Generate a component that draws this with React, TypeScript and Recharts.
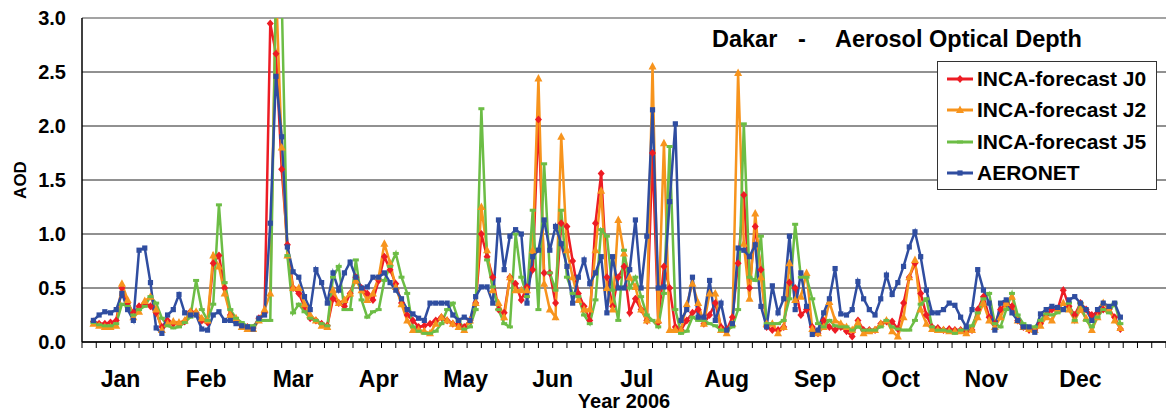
import React from "react";
import { LineChart, Line, XAxis, YAxis, CartesianGrid, ReferenceLine, Legend } from "recharts";

// AOD values every 2nd day of 2006, starting on day 4 (day 0 = Jan 1)
const dayStart = 4;
const dayStep = 2;

const incaJ0 = [
  0.19, 0.17, 0.17, 0.18, 0.2, 0.5, 0.36, 0.27, 0.33, 0.36,
  0.33, 0.27, 0.14, 0.2, 0.17, 0.17, 0.19, 0.28, 0.27, 0.2,
  0.18, 0.73, 0.8, 0.5, 0.25, 0.2, 0.15, 0.14, 0.13, 0.22,
  0.27, 2.95, 2.67, 1.6, 0.9, 0.5, 0.45, 0.33, 0.22, 0.2,
  0.17, 0.15, 0.4, 0.36, 0.33, 0.45, 0.6, 0.5, 0.45, 0.39,
  0.57, 0.79, 0.67, 0.54, 0.36, 0.25, 0.2, 0.14, 0.15, 0.17,
  0.2, 0.23, 0.2, 0.17, 0.16, 0.14, 0.2, 0.36, 1.0, 0.79,
  0.6, 0.3, 0.27, 0.6, 0.54, 0.39, 0.51, 0.67, 2.06, 0.64,
  0.64, 0.36, 1.1, 1.07, 0.75, 0.45, 0.33, 0.2, 1.1, 1.56,
  0.6, 0.33, 0.6, 0.7, 0.27, 0.4, 0.3, 0.2, 1.75, 0.18,
  0.7, 0.5, 0.14, 0.11, 0.2, 0.27, 0.3, 0.17, 0.25, 0.36,
  0.14, 0.11, 0.23, 0.73, 1.36, 0.5, 1.07, 0.67, 0.14, 0.11,
  0.11, 0.14, 0.55, 0.5, 0.25, 0.3, 0.14, 0.08, 0.2, 0.14,
  0.11, 0.14, 0.1, 0.05, 0.2, 0.11, 0.11, 0.11, 0.17, 0.19,
  0.19, 0.12, 0.36, 0.6, 0.73, 0.45, 0.25, 0.14, 0.13, 0.11,
  0.12, 0.11, 0.11, 0.1, 0.11, 0.3, 0.42, 0.23, 0.17, 0.3,
  0.36, 0.33, 0.2, 0.14, 0.11, 0.11, 0.17, 0.25, 0.3, 0.3,
  0.48, 0.33, 0.25, 0.36, 0.3, 0.25, 0.27, 0.3, 0.3, 0.23,
  0.12,
];

const incaJ2 = [
  0.17, 0.15, 0.14, 0.14, 0.15, 0.54, 0.39, 0.23, 0.28, 0.38,
  0.42, 0.3, 0.11, 0.17, 0.19, 0.18, 0.2, 0.28, 0.28, 0.22,
  0.2, 0.8, 0.7, 0.45, 0.25, 0.22, 0.14, 0.12, 0.12, 0.2,
  0.3, 0.45, 3.3, 1.8, 0.8, 0.5, 0.5, 0.35, 0.25, 0.2,
  0.15, 0.14, 0.48, 0.36, 0.39, 0.45, 0.57, 0.48, 0.39, 0.45,
  0.6, 0.91, 0.73, 0.51, 0.35, 0.2, 0.11, 0.11, 0.1, 0.08,
  0.17, 0.23, 0.2, 0.17, 0.14, 0.11, 0.2, 0.36, 1.25, 0.85,
  0.48, 0.36, 0.23, 0.6, 0.48, 0.48, 0.48, 0.85, 2.44, 0.54,
  0.3, 0.23, 1.9, 0.85, 0.6, 0.39, 0.3, 0.3, 0.85, 1.4,
  0.5, 0.3, 1.13, 0.82, 0.6, 0.51, 0.3, 0.2, 2.55, 0.2,
  1.84, 0.11, 0.11, 0.11, 0.35, 0.54, 0.36, 0.17, 0.45, 0.45,
  0.11, 0.08, 0.17, 2.49, 0.91, 0.4, 1.19, 0.6, 0.17, 0.17,
  0.08, 0.14, 0.73, 0.39, 0.42, 0.64, 0.12, 0.08, 0.14, 0.37,
  0.2, 0.17, 0.14, 0.11, 0.18, 0.08, 0.1, 0.11, 0.17, 0.2,
  0.1, 0.05, 0.23, 0.6, 0.76, 0.3, 0.17, 0.12, 0.11, 0.11,
  0.1, 0.1, 0.1, 0.08, 0.11, 0.23, 0.36, 0.2, 0.14, 0.23,
  0.36, 0.42, 0.2, 0.14, 0.12, 0.11, 0.15, 0.23, 0.2, 0.3,
  0.36, 0.3, 0.2, 0.3, 0.22, 0.11, 0.23, 0.36, 0.3, 0.2,
  0.13,
];

const incaJ5 = [
  0.18, 0.16, 0.15, 0.15, 0.17, 0.35, 0.33, 0.25, 0.3, 0.33,
  0.42, 0.36, 0.22, 0.15, 0.13, 0.14, 0.18, 0.23, 0.57, 0.3,
  0.2, 0.35, 1.27, 0.55, 0.3, 0.22, 0.18, 0.15, 0.15, 0.2,
  0.2, 0.2, 3.3, 3.2, 0.8, 0.27, 0.35, 0.28, 0.22, 0.2,
  0.17, 0.15, 0.6, 0.7, 0.3, 0.3, 0.76, 0.39, 0.23, 0.28,
  0.3, 0.57, 0.7, 0.82, 0.6, 0.45, 0.14, 0.1, 0.08, 0.08,
  0.1, 0.17, 0.3, 0.36, 0.2, 0.12, 0.14, 0.3, 2.16, 0.76,
  0.51, 0.3, 0.17, 0.14, 1.0, 0.6, 0.42, 1.22, 0.3, 1.65,
  0.64, 0.48, 1.22, 0.6, 0.45, 0.42, 0.25, 0.17, 0.39, 1.04,
  0.98, 0.48, 0.2, 0.85, 0.5, 0.6, 0.42, 0.25, 0.2, 0.14,
  0.45, 1.81, 0.3, 0.08, 0.1, 0.23, 0.2, 0.2, 0.17, 0.15,
  0.11, 0.11, 0.14, 0.3, 2.02, 0.6, 0.57, 0.98, 0.17, 0.17,
  0.17, 0.2, 0.4, 1.09, 0.6, 0.6, 0.4, 0.17, 0.14, 0.2,
  0.15, 0.14, 0.14, 0.11, 0.14, 0.11, 0.11, 0.11, 0.14, 0.2,
  0.14, 0.12, 0.11, 0.11, 0.2, 0.35, 0.4, 0.14, 0.11, 0.11,
  0.1, 0.08, 0.11, 0.12, 0.15, 0.27, 0.4, 0.45, 0.17, 0.14,
  0.3, 0.45, 0.25, 0.17, 0.14, 0.14, 0.2, 0.26, 0.25, 0.27,
  0.3, 0.36, 0.2, 0.36, 0.2, 0.14, 0.23, 0.3, 0.27, 0.36,
  0.17,
];

const aeronet = [
  0.2, 0.25, 0.28, 0.27, 0.3, 0.45, 0.3, 0.2, 0.85, 0.87,
  0.55, 0.13, 0.08, 0.25, 0.3, 0.44, 0.27, 0.25, 0.25, 0.12,
  0.11, 0.25, 0.28, 0.2, 0.2, 0.17, 0.15, 0.14, 0.12, 0.22,
  0.25, 1.1, 2.46, 1.9, 0.88, 0.65, 0.6, 0.42, 0.3, 0.67,
  0.55, 0.36, 0.64, 0.48, 0.64, 0.74, 0.6, 0.5, 0.51, 0.6,
  0.6, 0.64, 0.55, 0.48, 0.4, 0.3, 0.26, 0.22, 0.2, 0.36,
  0.36, 0.36, 0.36, 0.25, 0.2, 0.23, 0.2, 0.42, 0.51, 0.51,
  0.36, 1.13, 0.67, 0.98, 1.04, 1.0, 0.36, 0.79, 0.85, 1.13,
  0.85, 1.07, 0.91, 0.7, 0.36, 0.6, 0.76, 0.54, 0.64, 0.79,
  0.27, 0.79, 0.5, 0.5, 0.67, 1.13, 0.5, 0.98, 2.15, 0.5,
  0.51, 1.3, 2.02, 0.2, 0.3, 0.6, 0.23, 0.23, 0.57, 0.2,
  0.36, 0.11, 0.17, 0.87, 0.85, 0.79, 0.9, 0.33, 0.14, 0.52,
  0.27, 0.4, 0.98, 0.3, 0.64, 0.33, 0.07, 0.11, 0.27, 0.4,
  0.68, 0.26, 0.25, 0.3, 0.56, 0.4, 0.3, 0.25, 0.4, 0.62,
  0.44, 0.55, 0.7, 0.88, 1.02, 0.79, 0.48, 0.27, 0.27, 0.3,
  0.36, 0.34, 0.23, 0.14, 0.3, 0.67, 0.48, 0.36, 0.11, 0.36,
  0.39, 0.27, 0.2, 0.14, 0.14, 0.09, 0.26, 0.3, 0.33, 0.32,
  0.3, 0.39, 0.42, 0.36, 0.3, 0.2, 0.3, 0.36, 0.33, 0.36,
  0.23,
];

const monthNames = ["Jan", "Feb", "Mar", "Apr", "May", "Jun", "Jul", "Aug", "Sep", "Oct", "Nov", "Dec"];
const monthMid = [13.5, 43.5, 74, 104, 134.5, 165, 194.5, 226, 257, 287, 317, 350];
const yTicks = [0, 0.5, 1, 1.5, 2, 2.5, 3];
const dayTicks = Array.from({ length: 77 }, (_, i) => i * 5);

const data = aeronet.map((_, i) => ({
  day: dayStart + i * dayStep,
  j0: incaJ0[i],
  j2: incaJ2[i],
  j5: incaJ5[i],
  aero: aeronet[i],
}));

const FONT = "'Liberation Sans', Arial, sans-serif";
const RED = "#ed1c24";
const ORANGE = "#f7941d";
const GREEN = "#6cbd45";
const BLUE = "#2f4da0";

type Shape = "diamond" | "triangle" | "dash" | "square";

function marker(shape: Shape, cx: number, cy: number, color: string, key?: string) {
  if (shape === "diamond")
    return <path key={key} d={`M${cx},${cy - 4}L${cx + 3.5},${cy}L${cx},${cy + 4}L${cx - 3.5},${cy}Z`} fill={color} />;
  if (shape === "triangle")
    return <path key={key} d={`M${cx},${cy - 4.5}L${cx + 4},${cy + 3}L${cx - 4},${cy + 3}Z`} fill={color} />;
  if (shape === "square")
    return <rect key={key} x={cx - 2.6} y={cy - 2.6} width={5.2} height={5.2} fill={color} />;
  return <rect key={key} x={cx - 3} y={cy - 1.5} width={6} height={3} fill={color} />;
}

const makeDot = (shape: Shape, color: string) => (p: any) => {
  if (p.cx == null || p.cy == null || p.value == null) return <g key={p.key} />;
  return marker(shape, p.cx, p.cy, color, p.key);
};

const series = [
  { key: "j0", name: "INCA-forecast J0", color: RED, shape: "diamond" as Shape },
  { key: "j2", name: "INCA-forecast J2", color: ORANGE, shape: "triangle" as Shape },
  { key: "j5", name: "INCA-forecast J5", color: GREEN, shape: "dash" as Shape },
  { key: "aero", name: "AERONET", color: BLUE, shape: "square" as Shape },
];

function LegendBox() {
  return (
    <div
      style={{
        width: 220,
        height: 129,
        boxSizing: "border-box",
        border: "1.5px solid #333",
        background: "#fff",
        padding: "1px 0 0 8px",
        fontFamily: FONT,
        fontWeight: 700,
        fontSize: 21,
        color: "#000",
      }}
    >
      {series.map((s) => (
        <div key={s.key} style={{ display: "flex", alignItems: "center", height: 31.5 }}>
          <svg width={30} height={12} style={{ marginRight: 1 }}>
            <line x1={1} y1={6} x2={27} y2={6} stroke={s.color} strokeWidth={3} />
            {marker(s.shape, 14, 6, s.color)}
          </svg>
          <span>{s.name}</span>
        </div>
      ))}
    </div>
  );
}

const titleStyle: React.CSSProperties = {
  position: "absolute",
  top: 26,
  fontFamily: FONT,
  fontWeight: 700,
  fontSize: 23.5,
  color: "#000",
  whiteSpace: "nowrap",
};

export default function App() {
  return (
    <div style={{ position: "absolute", left: 0, top: 0, width: 1166, height: 412, background: "#fff" }}>
      <LineChart width={1166} height={412} data={data} margin={{ top: 18, right: 0, left: 0, bottom: 0 }}>
        <CartesianGrid vertical={false} stroke="#222" strokeWidth={1} />
        <XAxis
          dataKey="day"
          type="number"
          domain={[0, 380]}
          ticks={dayTicks}
          interval={0}
          tickFormatter={() => ""}
          tickSize={6}
          height={8}
          axisLine={{ stroke: "#000", strokeWidth: 1.5 }}
          tickLine={{ stroke: "#000", strokeWidth: 1 }}
          allowDataOverflow
        />
        <XAxis
          xAxisId="m"
          dataKey="day"
          type="number"
          domain={[0, 380]}
          allowDataOverflow
          ticks={monthMid}
          interval={0}
          height={62}
          axisLine={false}
          tickLine={false}
          tickSize={0}
          tickMargin={21}
          tickFormatter={(v: number) => monthNames[monthMid.indexOf(v)]}
          tick={{ fontSize: 23, fontWeight: 700, fill: "#000", fontFamily: FONT }}
          label={{ value: "Year 2006", position: "insideBottom", offset: 4, fontSize: 20, fontWeight: 700, fill: "#000", fontFamily: FONT }}
        />
        <YAxis
          type="number"
          domain={[0, 3]}
          ticks={yTicks}
          interval={0}
          width={82}
          allowDataOverflow
          tickFormatter={(v: number) => v.toFixed(1)}
          tick={{ fontSize: 20, fontWeight: 700, fill: "#000", fontFamily: FONT }}
          tickLine={false}
          tickSize={0}
          tickMargin={16}
          axisLine={{ stroke: "#000", strokeWidth: 1.5 }}
          label={{ value: "AOD", angle: -90, position: "center", dx: -21, fontSize: 17, fontWeight: 700, fill: "#000", fontFamily: FONT }}
        />
        <ReferenceLine y={3} stroke="#aaa" strokeWidth={1.5} />
        {series.map((s) => (
          <Line
            key={s.key}
            dataKey={s.key}
            name={s.name}
            type="linear"
            stroke={s.color}
            strokeWidth={2.5}
            dot={makeDot(s.shape, s.color)}
            activeDot={false}
            isAnimationActive={false}
          />
        ))}
        <Legend
          layout="vertical"
          align="center"
          verticalAlign="middle"
          content={() => <LegendBox />}
          wrapperStyle={{ left: 937, top: 61, width: 220, height: 129 }}
        />
      </LineChart>
      <div style={{ ...titleStyle, left: 712 }}>Dakar</div>
      <div style={{ ...titleStyle, left: 798 }}>-</div>
      <div style={{ ...titleStyle, left: 835 }}>Aerosol Optical Depth</div>
    </div>
  );
}
